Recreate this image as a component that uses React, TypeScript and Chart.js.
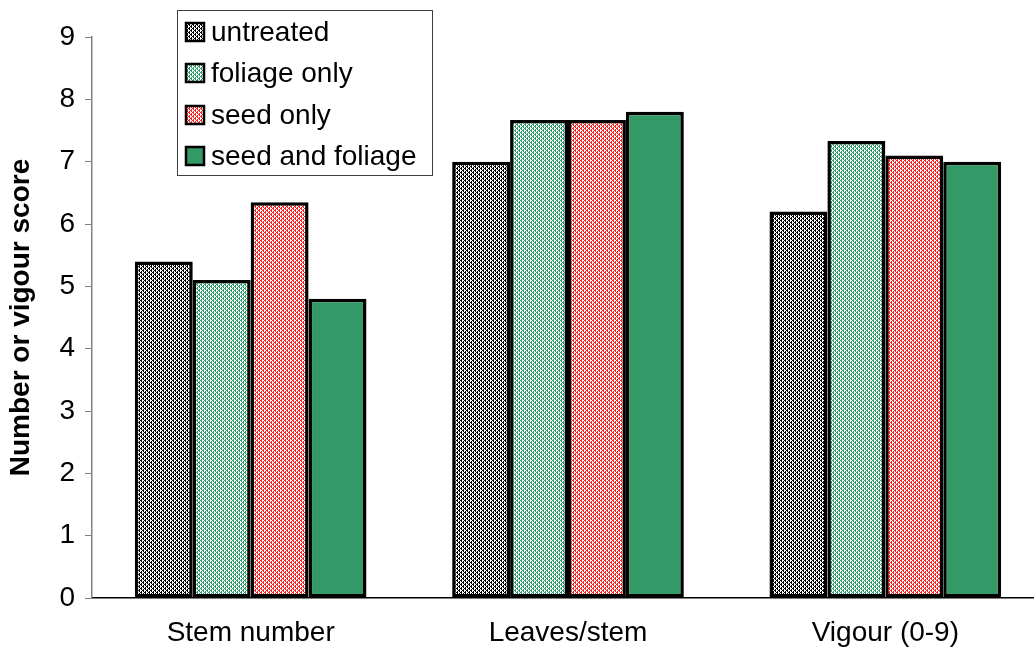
import React, { useEffect, useRef } from "react";
import { Chart, registerables } from "chart.js";

Chart.register(...registerables);

const categories = ["Stem number", "Leaves/stem", "Vigour (0-9)"];
const seriesNames = ["untreated", "foliage only", "seed only", "seed and foliage"];
const untreated = [5.4, 7.0, 6.2];
const foliageOnly = [5.1, 7.67, 7.33];
const seedOnly = [6.35, 7.67, 7.1];
const seedAndFoliage = [4.8, 7.8, 7.0];
const yTicks = [0, 1, 2, 3, 4, 5, 6, 7, 8, 9];

const FONT = "Arial, 'Liberation Sans', sans-serif";

// 4x4 grainy diagonal hatch tile ("/" direction, broken every other row)
function hatch(fg: string, bg: string): CanvasPattern | string {
  const c = document.createElement("canvas");
  c.width = 4;
  c.height = 4;
  const g = c.getContext("2d");
  if (!g) return fg;
  for (let y = 0; y < 4; y++) {
    for (let x = 0; x < 4; x++) {
      const d = (x + y) % 4;
      const on = d === 0 || (d === 1 && y % 2 === 0) || (d === 2 && y % 2 === 1);
      g.fillStyle = on ? fg : bg;
      g.fillRect(x, y, 1, 1);
    }
  }
  const p = g.createPattern(c, "repeat");
  return p || fg;
}

export default function App() {
  const ref = useRef<HTMLCanvasElement | null>(null);

  useEffect(() => {
    const canvas = ref.current;
    if (!canvas) return;

    const fills = [
      hatch("#000000", "#ffffff"),
      hatch("#2f9a6a", "#ffffff"),
      hatch("#ff2020", "#ffffff"),
      "#339966",
    ];
    const values = [untreated, foliageOnly, seedOnly, seedAndFoliage];

    const boxLegend = {
      id: "boxLegend",
      afterDraw(chart: Chart) {
        const ctx = chart.ctx;
        ctx.save();
        ctx.fillStyle = "#ffffff";
        ctx.fillRect(177.5, 10.5, 255, 165);
        ctx.strokeStyle = "#404040";
        ctx.lineWidth = 1;
        ctx.strokeRect(177.5, 10.5, 255, 165);
        const rows = [32, 73, 115, 156];
        ctx.font = `28px ${FONT}`;
        ctx.textBaseline = "middle";
        ctx.textAlign = "left";
        seriesNames.forEach((name, i) => {
          const y = rows[i];
          ctx.fillStyle = fills[i] as any;
          ctx.fillRect(186, y - 9, 18, 18);
          ctx.strokeStyle = "#000000";
          ctx.lineWidth = 2.5;
          ctx.strokeRect(186, y - 9, 18, 18);
          ctx.fillStyle = "#000000";
          ctx.fillText(name, 211, y + 1);
        });
        ctx.restore();
      },
    };

    const chart = new Chart(canvas, {
      type: "bar",
      data: {
        labels: categories,
        datasets: seriesNames.map((name, i) => ({
          label: name,
          data: values[i],
          backgroundColor: fills[i] as any,
          borderColor: "#000000",
          borderWidth: 3.5,
          borderSkipped: false,
          categoryPercentage: 0.73,
          barPercentage: 1,
        })),
      },
      options: {
        responsive: false,
        animation: false,
        devicePixelRatio: 1,
        layout: { padding: { top: 37, left: 0, right: 0, bottom: 0 } },
        plugins: {
          legend: { display: false },
          tooltip: { enabled: false },
        },
        scales: {
          x: {
            grid: { display: false },
            border: { display: true, color: "#000000", width: 1.5 },
            ticks: {
              color: "#000000",
              font: { family: FONT, size: 28 },
              padding: 10,
            },
            afterFit(scale: any) {
              scale.height = 56;
            },
          },
          y: {
            min: 0,
            max: 9,
            afterBuildTicks(scale: any) {
              scale.ticks = yTicks.map((v) => ({ value: v }));
            },
            grid: {
              drawOnChartArea: false,
              drawTicks: true,
              tickLength: 7,
              color: "#808080",
            },
            border: { display: true, color: "#808080", width: 1.5 },
            ticks: {
              color: "#000000",
              font: { family: FONT, size: 28 },
              padding: 10,
            },
            title: {
              display: true,
              text: "Number or vigour score",
              color: "#000000",
              font: { family: FONT, size: 28, weight: "bold" },
              padding: { top: 4, bottom: 0 },
            },
            afterFit(scale: any) {
              scale.width = 92;
            },
          },
        },
      },
      plugins: [boxLegend],
    });

    return () => chart.destroy();
  }, []);

  return (
    <div
      style={{
        position: "absolute",
        left: 0,
        top: 0,
        width: 1034,
        height: 654,
        overflow: "hidden",
        background: "#ffffff",
      }}
    >
      <canvas ref={ref} width={1044} height={654} style={{ width: 1044, height: 654, display: "block" }} />
    </div>
  );
}
